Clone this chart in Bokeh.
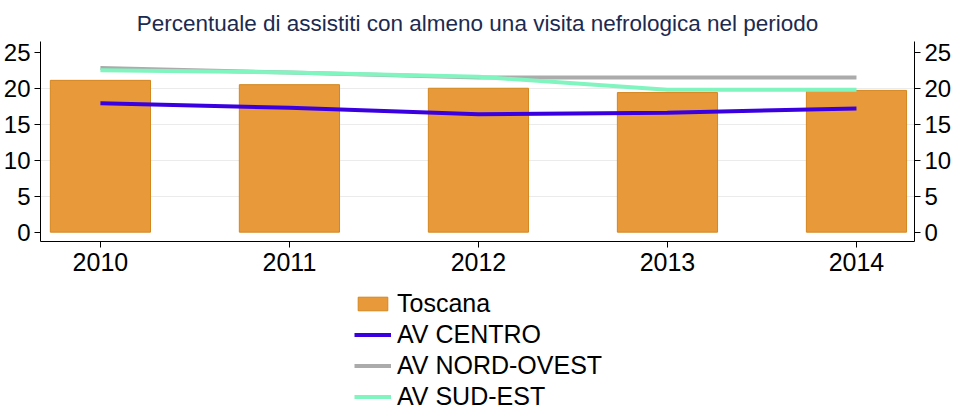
from bokeh.plotting import figure
from bokeh.layouts import column
from bokeh.models import Range1d, LinearAxis, FixedTicker, Legend, LegendItem, ColumnDataSource
from bokeh.embed import file_html
from bokeh.resources import INLINE

years = [2010, 2011, 2012, 2013, 2014]
toscana = [21.1, 20.5, 20.0, 19.4, 19.7]
av_centro = [17.9, 17.3, 16.4, 16.6, 17.2]
av_nord_ovest = [22.8, 22.2, 21.5, 21.5, 21.5]
av_sud_est = [22.5, 22.2, 21.6, 19.8, 19.8]
series_names = ["Toscana", "AV CENTRO", "AV NORD-OVEST", "AV SUD-EST"]

FONT = "Liberation Sans"
C_BAR, C_BAR_LINE = "#E89A3A", "#D4861E"
C_CEN, C_NO, C_SE = "#3A00E0", "#ABABAB", "#80F5C0"

p = figure(frame_width=874, frame_height=200, output_backend="svg", toolbar_location=None,
           x_range=Range1d(2009.683, 2014.307), y_range=Range1d(-1.3, 26.5),
           min_border=0)
p.margin = (2, 0, 0, 0)
p.title.text = "Percentuale di assistiti con almeno una visita nefrologica nel periodo"
p.title.align = "center"
p.title.text_font = FONT
p.title.text_font_size = "22.5px"
p.title.text_font_style = "normal"
p.title.text_color = "#1C2A50"
p.title.standoff = 12
p.outline_line_color = None

src = ColumnDataSource(dict(x=years, t=toscana, c=av_centro, n=av_nord_ovest, s=av_sud_est))
p.vbar(x="x", top="t", bottom=0, width=0.53, source=src,
       fill_color=C_BAR, line_color=C_BAR_LINE, line_width=1)
p.line("x", "c", source=src, line_color=C_CEN, line_width=4)
p.line("x", "n", source=src, line_color=C_NO, line_width=4)
p.line("x", "s", source=src, line_color=C_SE, line_width=4)

def style_axis(ax, size):
    ax.major_label_text_font = FONT
    ax.major_label_text_font_size = size
    ax.major_label_text_color = "#000000"
    ax.axis_line_color = "#000000"
    ax.major_tick_line_color = "#000000"
    ax.major_tick_out = 6
    ax.major_tick_in = 0
    ax.minor_tick_line_color = None
    ax.major_label_standoff = 4

p.xaxis.ticker = FixedTicker(ticks=years)
p.yaxis.ticker = FixedTicker(ticks=[0, 5, 10, 15, 20, 25])
style_axis(p.xaxis[0], "25px")
style_axis(p.yaxis[0], "24px")
p.xaxis[0].major_label_standoff = 5
# spacer so that the bottom panel holds the tick labels fully
p.xaxis[0].axis_label = " "
p.xaxis[0].axis_label_text_font_size = "1px"
p.xaxis[0].axis_label_standoff = 8

ry = LinearAxis(ticker=FixedTicker(ticks=[0, 5, 10, 15, 20, 25]))
style_axis(ry, "24px")
p.add_layout(ry, "right")

p.xgrid.grid_line_color = None
p.ygrid.ticker = FixedTicker(ticks=[5, 10, 15, 20])
p.ygrid.grid_line_color = "#EBEBEB"

# legend panel
H2 = 126
p2 = figure(width=945, height=H2, output_backend="svg", toolbar_location=None,
            x_range=Range1d(0, 1), y_range=Range1d(0, 1),
            x_axis_location=None, y_axis_location=None,
            min_border=0, outline_line_color=None)
p2.grid.visible = False
hidden = ColumnDataSource(dict(x=[-5], y=[-5], t=[-4]))
r_bar = p2.vbar(x="x", top="t", bottom=-5, width=0.5, source=hidden,
                fill_color=C_BAR, line_color=C_BAR_LINE, line_width=1)
r_cen = p2.line("x", "y", source=hidden, line_color=C_CEN, line_width=4)
r_no = p2.line("x", "y", source=hidden, line_color=C_NO, line_width=4)
r_se = p2.line("x", "y", source=hidden, line_color=C_SE, line_width=4)

legend = Legend(items=[
    LegendItem(label=series_names[0], renderers=[r_bar]),
    LegendItem(label=series_names[1], renderers=[r_cen]),
    LegendItem(label=series_names[2], renderers=[r_no]),
    LegendItem(label=series_names[3], renderers=[r_se]),
], location=(314, 0), orientation="vertical")
legend.label_text_font = FONT
legend.label_text_font_size = "25px"
legend.label_text_color = "#000000"
legend.label_height = 29
legend.glyph_height = 17
legend.glyph_width = 37
legend.label_standoff = 6
legend.spacing = 2
legend.padding = 0
legend.margin = 0
legend.border_line_color = None
legend.background_fill_alpha = 0
p2.add_layout(legend, "center")

layout = column(p, p2, spacing=0)
open("out.html", "w").write(file_html(layout, INLINE))
